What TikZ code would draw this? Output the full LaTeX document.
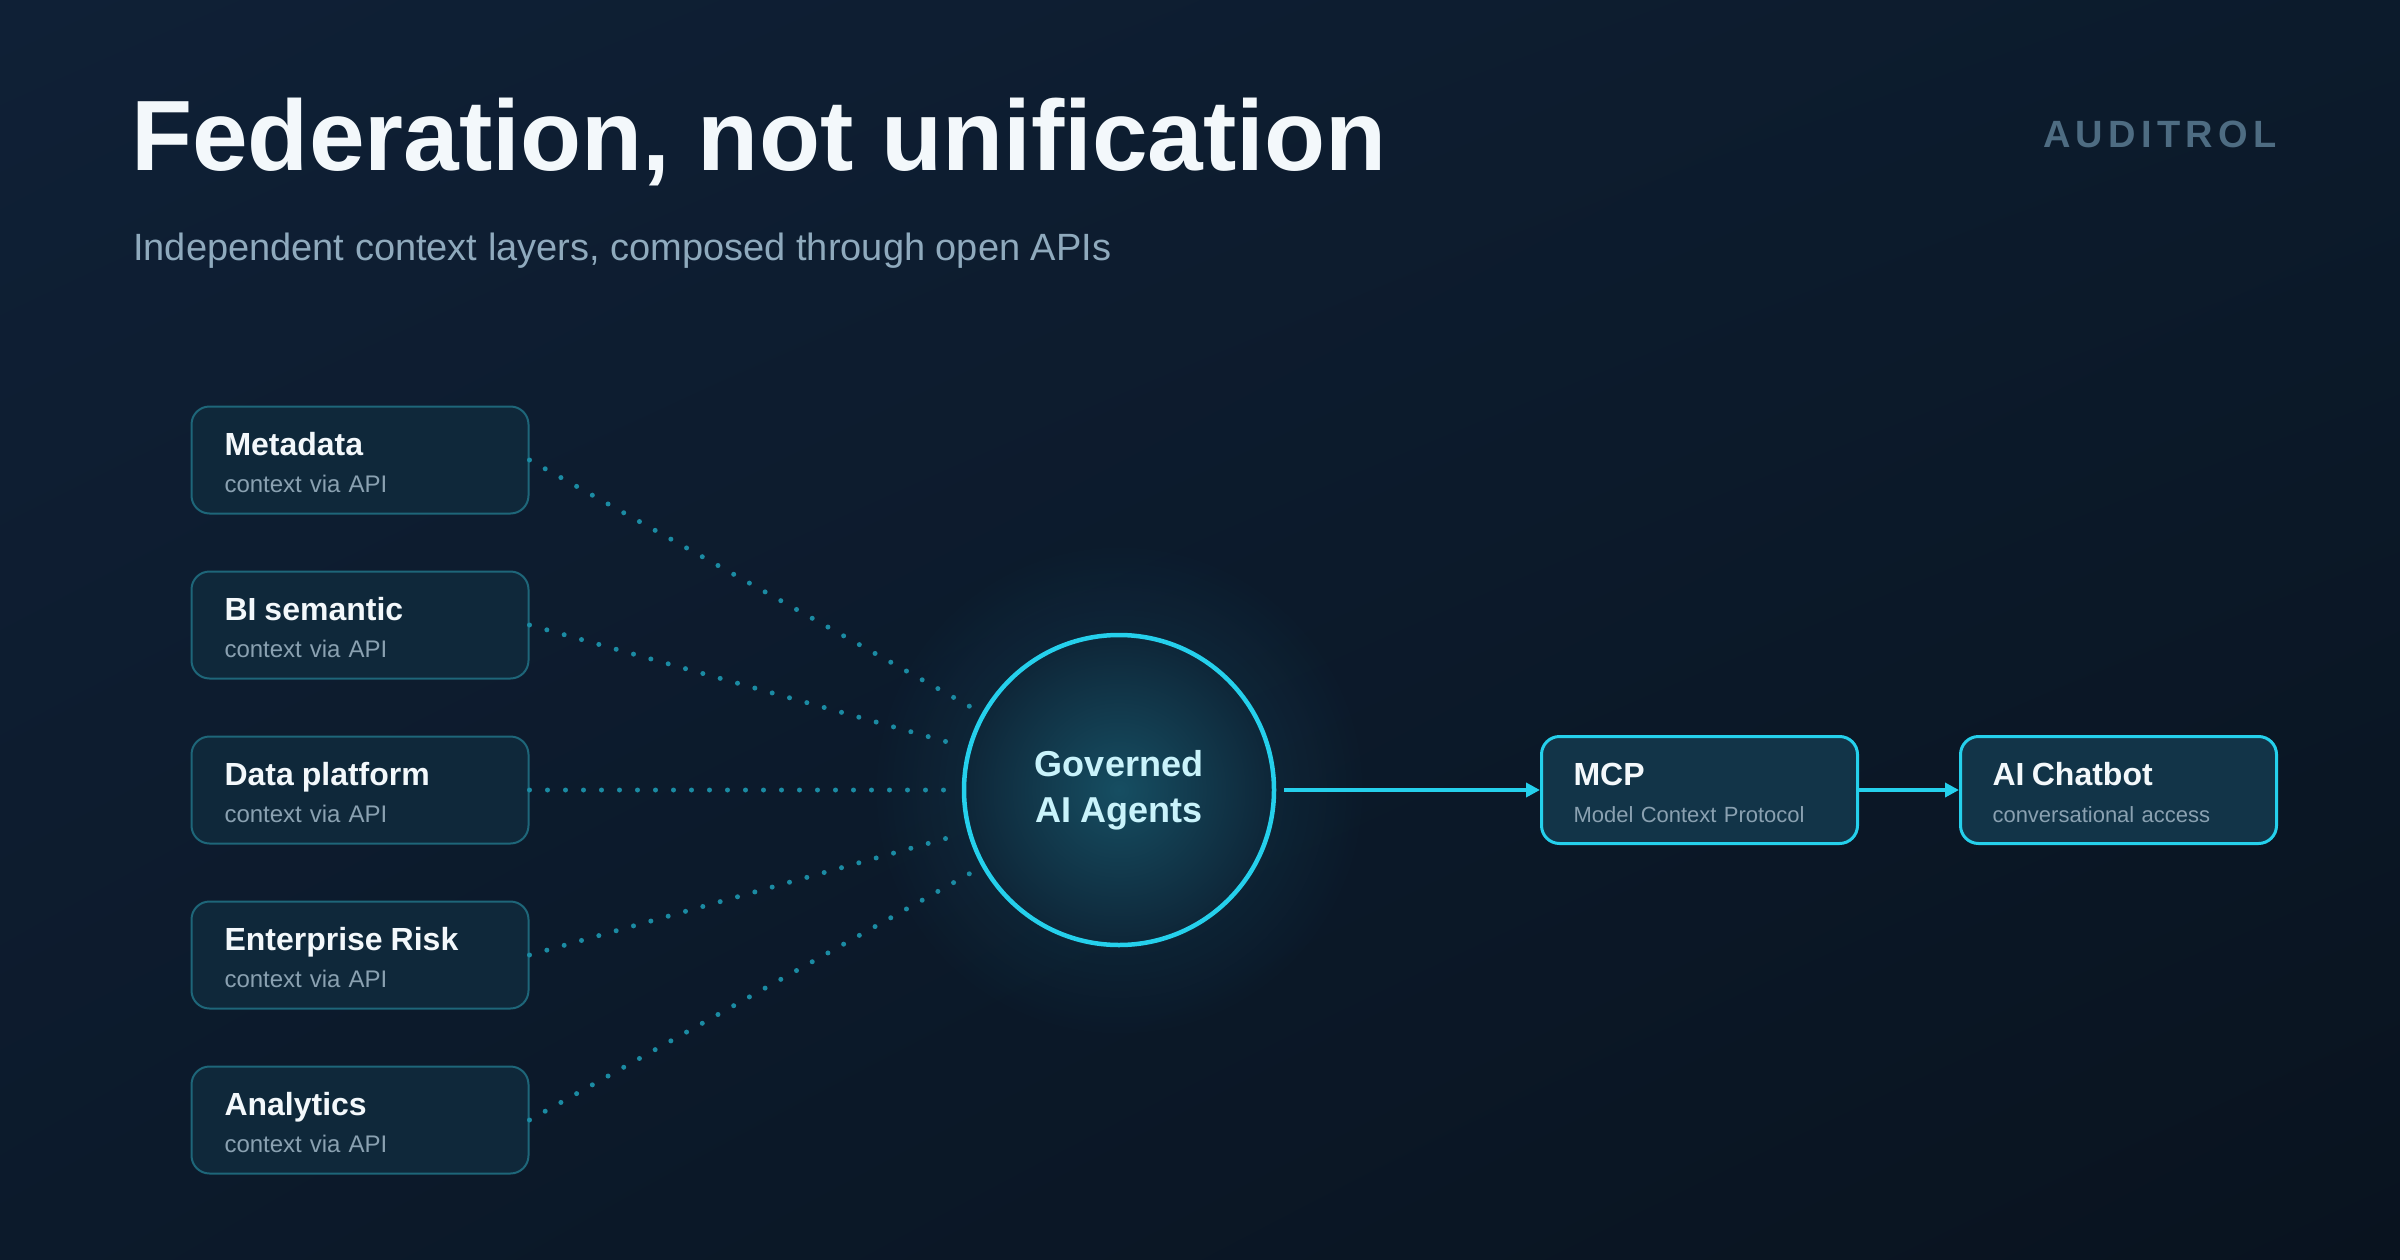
\documentclass[tikz,border=0pt]{standalone}
\usepackage{fontspec}
\setmainfont{Liberation Sans}
\usetikzlibrary{positioning,arrows.meta,fadings,shadings}

\definecolor{bgtl}{HTML}{0F2036}
\definecolor{bgtr}{HTML}{0C1B2C}
\definecolor{bgbl}{HTML}{0C1A2B}
\definecolor{bgbr}{HTML}{09131F}
\definecolor{titlec}{HTML}{F3F8FB}
\definecolor{subc}{HTML}{8FAABD}
\definecolor{brandc}{HTML}{4E6C82}
\definecolor{srcfill}{HTML}{0F283A}
\definecolor{srcline}{HTML}{1E6679}
\definecolor{ctxc}{HTML}{8AA1B1}
\definecolor{dotc}{HTML}{1B8BA3}
\definecolor{cyanline}{HTML}{25D0EC}
\definecolor{hubin}{HTML}{164E62}
\definecolor{hubout}{HTML}{0E2638}
\definecolor{hubtxt}{HTML}{C9F3FB}
\definecolor{hubglow}{HTML}{1E7A96}
\definecolor{destfill}{HTML}{123448}

\tikzfading[name=halo, inner color=transparent!0, outer color=transparent!100]

\tikzstyle{src} = [rectangle, draw=srcline, line width=2pt, fill=srcfill,
    rounded corners=18pt, minimum height=107pt, text width=271pt,
    inner xsep=33pt, inner ysep=0pt, align=left, text=titlec,
    font=\fontsize{24}{37}\selectfont]
\tikzstyle{dest} = [src, draw=cyanline, line width=3pt, fill=destfill,
    text width=252pt, inner xsep=32pt, font=\fontsize{22}{37}\selectfont]
\tikzstyle{hub} = [circle, draw=cyanline, line width=4.5pt, minimum size=310pt,
    shade, inner color=hubin, outer color=hubout, align=center, text=hubtxt,
    font=\fontsize{36}{46}\selectfont\bfseries]
\tikzstyle{dotlink} = [draw=dotc, line width=5pt, line cap=round,
    dash pattern=on 0pt off 18pt, shorten >=14pt]
\tikzstyle{flow} = [->, draw=cyanline, line width=3.5pt]

% title line + grey line inside a box
\newcommand{\ctx}[2]{{\fontsize{32}{37}\selectfont\bfseries\rule{0pt}{32pt}#1}\\
  \textcolor{ctxc}{#2\rule[-5pt]{0pt}{5pt}}}

\begin{document}
\begin{tikzpicture}[x=1pt,y=-1pt,>={Triangle[length=14pt,width=14pt]},
                    node distance=56pt]

  \shade[upper left=bgtl, upper right=bgtr, lower left=bgbl, lower right=bgbr]
    (0,0) rectangle (2400,1260);
  \useasboundingbox (0,0) rectangle (2400,1260);

  \node[anchor=base west, inner sep=0, text=titlec,
        font=\fontsize{100}{110}\selectfont\bfseries] (title) at (131,171)
        {Federation, not unification};
  \node[anchor=base west, inner sep=0, text=subc,
        font=\fontsize{38}{44}\selectfont] (subtitle) at (133,260)
        {Independent context layers, composed through open APIs};
  \node[anchor=base west, inner sep=0, text=brandc,
        font=\fontsize{38}{44}\selectfont\bfseries\addfontfeature{LetterSpace=14}]
        (brand) at (2043,148) {AUDITROL};

  % glow behind the hub
  \coordinate (hubc) at (1119,790);
  \fill[hubglow, path fading=halo, fill opacity=0.3] (hubc) circle (250);

  \node[src]                (meta)  at (360,460) {\ctx{Metadata}{context via API}};
  \node[src, below=of meta] (bisem) {\ctx{BI semantic}{context via API}};
  \node[src, below=of bisem] (dplat) {\ctx{Data platform}{context via API}};
  \node[src, below=of dplat] (erisk) {\ctx{Enterprise Risk}{context via API}};
  \node[src, below=of erisk] (anly)  {\ctx{Analytics}{context via API}};

  \node[hub] (hub) at (hubc) {Governed\\AI Agents};

  \node[dest]                      (mcp) at (1699.5,790) {\ctx{MCP}{Model Context Protocol}};
  \node[dest, right=100pt of mcp]  (bot) {\ctx{AI Chatbot}{conversational access}};

  \foreach \s in {meta,bisem,dplat,erisk,anly}
    \draw[dotlink] (\s.east) -- (hub);

  \draw[flow, shorten <=8pt] (hub) -- (mcp);
  \draw[flow] (mcp) -- (bot);
\end{tikzpicture}
\end{document}
